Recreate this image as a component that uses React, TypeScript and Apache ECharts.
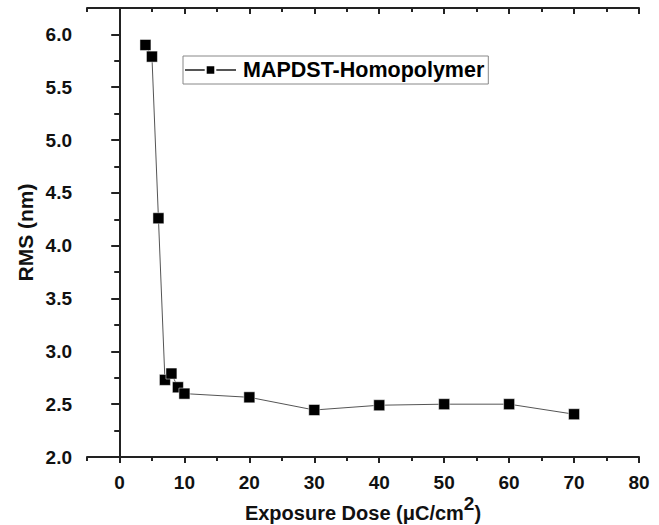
import React, { useEffect, useRef } from "react";
import * as echarts from "echarts";

const doseValues = [4, 5, 6, 7, 8, 9, 10, 20, 30, 40, 50, 60, 70];
const rmsValues = [5.9, 5.79, 4.26, 2.73, 2.79, 2.66, 2.6, 2.565, 2.445, 2.49, 2.5, 2.5, 2.405];
const xMajorTicks = [0, 10, 20, 30, 40, 50, 60, 70, 80];
const xMinorTicks = [-5, 5, 15, 25, 35, 45, 55, 65, 75];
const seriesName = "MAPDST-Homopolymer";
const xTitle = "Exposure Dose (μC/cm";
const yTitle = "RMS (nm)";

export default function App() {
  const ref = useRef<HTMLDivElement>(null);
  useEffect(() => {
    if (!ref.current) return;
    const chart = echarts.init(ref.current, undefined, { renderer: "svg" });
    const font = "'Liberation Sans', Arial, sans-serif";
    const axisLine = { show: true, lineStyle: { color: "#222", width: 2 } };
    const tickStyle = { color: "#222", width: 2 };
    const xBase = { type: "value", min: -5, max: 80, interval: 5, splitLine: { show: false } };
    chart.setOption({
      animation: false,
      backgroundColor: "#fff",
      textStyle: { fontFamily: font },
      grid: { left: 87, right: 20, top: 8, bottom: 68, containLabel: false, outerBoundsMode: "none" },
      legend: {
        data: [seriesName],
        left: 183,
        top: 56,
        orient: "horizontal",
        itemWidth: 51,
        itemHeight: 12,
        itemGap: 4,
        padding: [3, 4, 3, 1],
        borderColor: "#888",
        borderWidth: 1,
        borderRadius: 0,
        textStyle: { fontFamily: font, fontWeight: "bold", fontSize: 21.5, color: "#000", padding: [0, 0, 0, 2] },
      },
      xAxis: [
        {
          ...xBase,
          position: "bottom",
          axisLine,
          axisTick: { show: true, length: 6, inside: false, lineStyle: tickStyle, customValues: xMajorTicks },
          minorTick: { show: false },
          axisLabel: {
            margin: 16,
            fontFamily: font,
            fontWeight: "bold",
            fontSize: 19,
            color: "#111",
            customValues: xMajorTicks,
          },
          name: "{a|" + xTitle + "}{s|2}{a|)}",
          nameLocation: "middle",
          nameGap: 40,
          nameMoveOverlap: false,
          nameTextStyle: {
            rich: {
              a: { fontFamily: font, fontWeight: "bold", fontSize: 20, color: "#111", lineHeight: 22, padding: [9, 0, 0, 0] },
              s: { fontFamily: font, fontWeight: "bold", fontSize: 19, color: "#111", lineHeight: 22, padding: [0, 0, 9, 0] },
            },
          },
        },
        {
          ...xBase,
          position: "bottom",
          axisLine: { show: false },
          axisTick: { show: true, length: 4, inside: false, lineStyle: tickStyle, customValues: xMinorTicks },
          axisLabel: { show: false },
        },
        {
          ...xBase,
          position: "top",
          axisLine,
          axisTick: { show: true, length: 6, inside: true, lineStyle: tickStyle, customValues: xMajorTicks },
          axisLabel: { show: false },
        },
        {
          ...xBase,
          position: "top",
          axisLine: { show: false },
          axisTick: { show: true, length: 4, inside: true, lineStyle: tickStyle, customValues: xMinorTicks },
          axisLabel: { show: false },
        },
      ],
      yAxis: [
        {
          type: "value",
          min: 2.0,
          max: 6.25,
          interval: 0.5,
          position: "left",
          axisLine,
          axisTick: { show: true, length: 8, inside: false, lineStyle: tickStyle },
          minorTick: { show: true, splitNumber: 2, length: 5, lineStyle: tickStyle },
          splitLine: { show: false },
          axisLabel: {
            margin: 15,
            fontFamily: font,
            fontWeight: "bold",
            fontSize: 19,
            color: "#111",
            formatter: (v: number) => (v > 6.01 ? "" : v.toFixed(1)),
          },
          name: yTitle,
          nameLocation: "middle",
          nameGap: 51,
          nameMoveOverlap: false,
          nameTextStyle: { fontFamily: font, fontWeight: "bold", fontSize: 21, color: "#111" },
        },
        {
          type: "value",
          min: 2.0,
          max: 6.25,
          interval: 0.5,
          position: "right",
          axisLine,
          axisTick: { show: true, length: 8, inside: true, lineStyle: tickStyle },
          minorTick: { show: true, splitNumber: 2, length: 5, lineStyle: tickStyle },
          splitLine: { show: false },
          axisLabel: { show: false },
        },
      ],
      series: [
        {
          name: seriesName,
          type: "line",
          xAxisIndex: 0,
          yAxisIndex: 0,
          data: doseValues.map((d, i) => [d, rmsValues[i]]),
          symbol: "rect",
          symbolSize: 11,
          itemStyle: { color: "#000", borderColor: "#fff", borderWidth: 0.5 },
          lineStyle: { color: "#555", width: 1 },
        },
      ],
    });
    return () => chart.dispose();
  }, []);
  return <div ref={ref} style={{ width: 659, height: 525, position: "absolute", left: 0, top: 0 }} />;
}
